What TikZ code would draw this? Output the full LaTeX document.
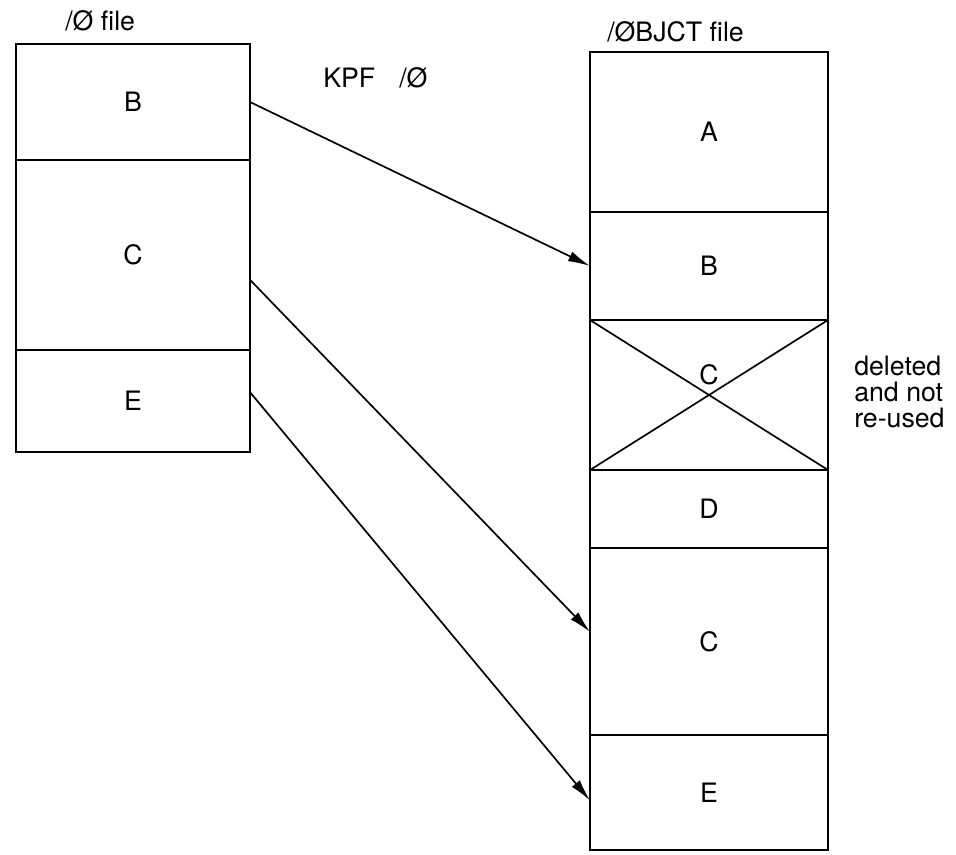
\documentclass[tikz,border=0pt]{standalone}
\usepackage{fontspec}
\setmainfont{TeX Gyre Heros}
\usetikzlibrary{arrows.meta,positioning}

\begin{document}
\begin{tikzpicture}[
  seg/.style={draw, line width=1.7pt, outer sep=0pt, inner sep=0pt,
              font=\fontsize{19}{22}\selectfont},
  lseg/.style={seg, minimum width=5.85cm},
  rseg/.style={seg, minimum width=5.95cm},
  ar/.style={-{Latex[length=5.5mm,width=2.6mm]}, line width=1.2pt},
  lab/.style={font=\fontsize{19}{18.5}\selectfont, inner sep=0pt, align=left}]
\useasboundingbox (0,0) rectangle (23.9,21.35);

% source file
\node[lseg, minimum height=2.9cm] (lB) at (3.325,18.8) {B};
\node[lseg, minimum height=4.75cm, below=0pt of lB] (lC) {C};
\node[lseg, minimum height=2.55cm, below=0pt of lC] (lE) {E};
\node[lab, anchor=base west] (lname) at (1.625,20.575) {/Ø file};

% object file
\node[rseg, minimum height=4cm] (rA) at (17.725,18.05) {A};
\node[rseg, minimum height=2.7cm, below=0pt of rA] (rB) {B};
\node[rseg, minimum height=3.75cm, below=0pt of rB] (rX) {};
\node[rseg, minimum height=1.95cm, below=0pt of rX] (rD) {D};
\node[rseg, minimum height=4.675cm, below=0pt of rD] (rC) {C};
\node[rseg, minimum height=2.875cm, below=0pt of rC] (rE) {E};
\node[lab, anchor=base west] (rname) at (15.175,20.3) {/ØBJCT file};

% old C crossed out
\draw[line width=1.2pt] (rX.north west) -- (rX.south east)
                        (rX.south west) -- (rX.north east);
\node[lab, anchor=base] (rXlab) at ([yshift=0.25cm]rX.center) {C};
\node[lab, anchor=north west] (note) at (21.35,12.45) {deleted\\and not\\re-used};

\node[lab, anchor=base west] (cmd) at (8.075,19.15) {KPF\hspace{0.9em}/Ø};

\draw[ar] (lB.east) -- (rB.west);
\draw[ar] ([yshift=-0.62cm]lC.east) -- ([yshift=0.24cm]rC.west);
\draw[ar] ([yshift=0.22cm]lE.east) -- ([yshift=-0.2cm]rE.west);
\end{tikzpicture}
\end{document}
